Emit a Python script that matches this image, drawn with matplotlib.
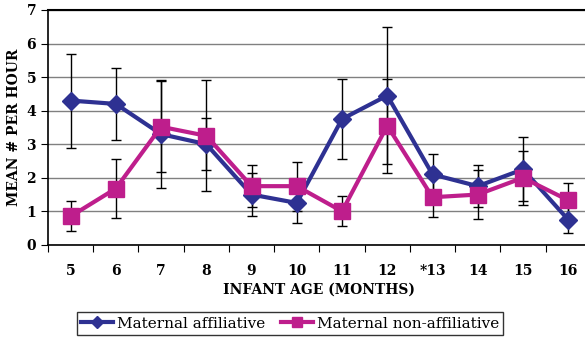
import matplotlib
matplotlib.use("Agg")
import matplotlib.pyplot as plt
import numpy as np

plt.rcParams['font.family'] = ['DejaVu Serif']

ages = ['5', '6', '7', '8', '9', '10', '11', '12', '*13', '14', '15', '16']
affil = [4.3, 4.2, 3.3, 3.0, 1.5, 1.25, 3.75, 4.45, 2.1, 1.75, 2.25, 0.75]
affil_err = [1.4, 1.07, 1.6, 0.77, 0.63, 0.6, 1.2, 2.05, 0.6, 0.63, 0.95, 0.4]
nonaff = [0.85, 1.68, 3.52, 3.25, 1.75, 1.75, 1.0, 3.55, 1.42, 1.5, 2.0, 1.33]
nonaff_err = [0.45, 0.88, 1.35, 1.65, 0.63, 0.73, 0.45, 1.4, 0.6, 0.72, 0.8, 0.5]

blue = '#2e3192'
pink = '#be1e8c'

fig = plt.figure(figsize=(5.85, 3.43), dpi=100)
ax = fig.add_axes([0.082, 0.286, 0.928, 0.685])
x = np.arange(len(ages))

ax.errorbar(x, affil, yerr=affil_err, fmt='none', ecolor='black', elinewidth=1, capsize=3.5, capthick=1, zorder=2)
ax.errorbar(x, nonaff, yerr=nonaff_err, fmt='none', ecolor='black', elinewidth=1, capsize=3.5, capthick=1, zorder=2)
ax.plot(x, affil, color=blue, lw=3, marker='D', ms=9, label='Maternal affiliative', zorder=3)
ax.plot(x, nonaff, color=pink, lw=3, marker='s', ms=11, label='Maternal non-affiliative', zorder=4)

ax.set_xlim(-0.5, len(ages) - 0.5)
ax.set_ylim(0, 7)
ax.set_yticks(range(8))
ax.yaxis.grid(True, color='#808080', lw=1)
ax.set_axisbelow(True)
ax.spines['right'].set_visible(False)
ax.spines['top'].set_linewidth(1.5)
ax.spines['left'].set_linewidth(1.2)
ax.spines['bottom'].set_linewidth(1.2)

# tick marks sit between the categories, labels at the centres
ax.set_xticks(np.arange(-0.5, len(ages)))
ax.set_xticklabels([])
ax.set_xticks(x, minor=True)
ax.set_xticklabels(ages, minor=True, fontweight='bold', fontsize=10)
ax.tick_params(axis='x', which='minor', length=0, pad=14)
ax.tick_params(axis='x', which='major', length=5, direction='out')
ax.tick_params(axis='y', length=5, labelsize=10)
for t in ax.get_yticklabels():
    t.set_fontweight('bold')

ax.set_xlabel('INFANT AGE (MONTHS)', fontweight='bold', fontsize=10, labelpad=3)
ax.set_ylabel('MEAN # PER HOUR', fontweight='bold', fontsize=10)

leg = fig.legend(loc='lower left', bbox_to_anchor=(0.118, 0.0), ncol=2, frameon=True,
                 fancybox=False, edgecolor='black', fontsize=11, handlelength=2.1,
                 borderpad=0.3, columnspacing=1.0, handletextpad=0.25, markerscale=0.7)
leg.get_frame().set_linewidth(1)

fig.savefig('out.png', dpi=100)
